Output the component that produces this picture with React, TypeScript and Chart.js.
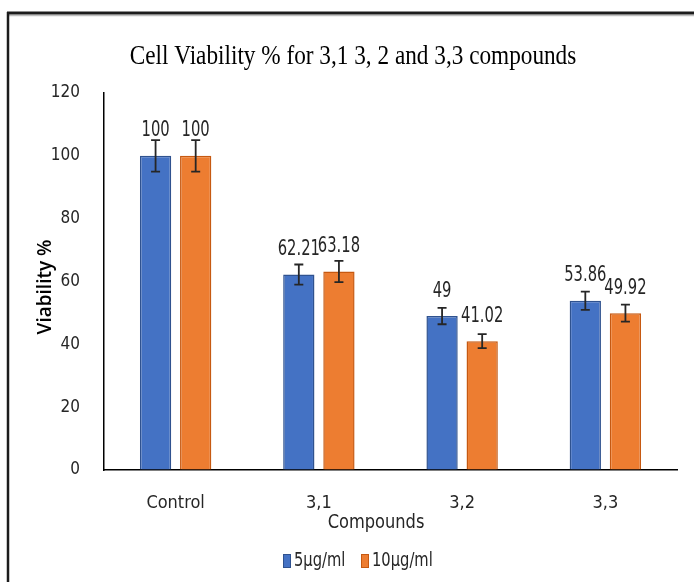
import React, { useEffect, useRef } from "react";
import { Chart, registerables } from "chart.js";

Chart.register(...registerables);

const chartTitle = "Cell Viability % for 3,1 3, 2 and 3,3 compounds";
const xAxisTitle = "Compounds";
const yAxisTitle = "Viability %";
const categories = ["Control", "3,1", "3,2", "3,3"];
const seriesNames = ["5µg/ml", "10µg/ml"];
const values5 = [100, 62.21, 49, 53.86];
const values10 = [100, 63.18, 41.02, 49.92];
const errors5 = [5, 3.2, 2.6, 2.9];
const errors10 = [5, 3.4, 2.2, 2.7];
const labels5 = ["100", "62.21", "49", "53.86"];
const labels10 = ["100", "63.18", "41.02", "49.92"];
const yTicks = [0, 20, 40, 60, 80, 100, 120];

const NARROW = '"Liberation Sans Narrow", "DejaVu Sans Condensed", "Arial Narrow", sans-serif';
const SERIF = '"Liberation Serif", "Times New Roman", serif';
const SANS = '"Open Sans", "Liberation Sans", sans-serif';

const errorsBySeries = [errors5, errors10];
const labelsBySeries = [labels5, labels10];

function drawSqueezed(
  ctx: CanvasRenderingContext2D,
  text: string,
  x: number,
  y: number,
  font: string,
  sx: number,
  align: CanvasTextAlign,
  color: string,
  rotate = 0
) {
  ctx.save();
  ctx.font = font;
  ctx.fillStyle = color;
  ctx.textAlign = align;
  ctx.textBaseline = "middle";
  ctx.translate(x, y);
  if (rotate) ctx.rotate(rotate);
  ctx.scale(sx, 1);
  ctx.fillText(text, 0, 0);
  ctx.restore();
}

const framePlugin = {
  id: "frame",
  beforeDraw(chart: any) {
    const { ctx, width, height } = chart;
    ctx.save();
    ctx.fillStyle = "#ffffff";
    ctx.fillRect(0, 0, width, height);
    ctx.strokeStyle = "#1c1c1c";
    ctx.lineWidth = 3;
    ctx.beginPath();
    ctx.moveTo(7, 13);
    ctx.lineTo(width, 13);
    ctx.stroke();
    ctx.lineWidth = 2.5;
    ctx.beginPath();
    ctx.moveTo(8, 12);
    ctx.lineTo(8, height);
    ctx.stroke();
    ctx.strokeStyle = "rgba(0,0,0,0.25)";
    ctx.lineWidth = 1.5;
    ctx.beginPath();
    ctx.moveTo(9, 15.5);
    ctx.lineTo(width, 15.5);
    ctx.stroke();
    ctx.restore();
    drawSqueezed(ctx, chartTitle, 353, 57, `28px ${SERIF}`, 0.83, "center", "#000");
    drawSqueezed(ctx, xAxisTitle, 376, 523, `19px ${NARROW}`, 0.95, "center", "#262626");
    drawSqueezed(ctx, yAxisTitle, 46, 287, `600 19px ${SANS}`, 1.0, "center", "#000", -Math.PI / 2);
  },
};

const legendPlugin = {
  id: "customLegend",
  afterDraw(chart: any) {
    const { ctx } = chart;
    const y = 561;
    const starts = [283, 361];
    chart.data.datasets.forEach((ds: any, di: number) => {
      const x = starts[di];
      ctx.save();
      ctx.fillStyle = ds.backgroundColor;
      ctx.strokeStyle = ds.borderColor;
      ctx.lineWidth = 1;
      ctx.fillRect(x, y - 7, 8, 14);
      ctx.strokeRect(x + 0.5, y - 6.5, 7, 13);
      ctx.restore();
      drawSqueezed(ctx, ds.label, x + 11, y, `19px ${NARROW}`, 0.86, "left", "#262626");
    });
  },
};

const errorBarPlugin = {
  id: "errorBars",
  afterDatasetsDraw(chart: any) {
    const { ctx } = chart;
    const yScale = chart.scales.y;
    chart.data.datasets.forEach((ds: any, di: number) => {
      const meta = chart.getDatasetMeta(di);
      meta.data.forEach((el: any, i: number) => {
        const v = ds.data[i];
        const e = errorsBySeries[di][i];
        const yTop = yScale.getPixelForValue(v + e);
        const yBot = yScale.getPixelForValue(v - e);
        const x = el.x;
        ctx.save();
        ctx.strokeStyle = "#262626";
        ctx.lineWidth = 1.8;
        ctx.beginPath();
        ctx.moveTo(x, yTop);
        ctx.lineTo(x, yBot);
        ctx.moveTo(x - 4.5, yTop);
        ctx.lineTo(x + 4.5, yTop);
        ctx.moveTo(x - 4.5, yBot);
        ctx.lineTo(x + 4.5, yBot);
        ctx.stroke();
        ctx.restore();
      });
    });
  },
};

const dataLabelPlugin = {
  id: "dataLabels",
  afterDatasetsDraw(chart: any) {
    const { ctx } = chart;
    chart.data.datasets.forEach((ds: any, di: number) => {
      const meta = chart.getDatasetMeta(di);
      meta.data.forEach((el: any, i: number) => {
        drawSqueezed(ctx, labelsBySeries[di][i], el.x, el.y - 25, `21px ${NARROW}`, 0.78, "center", "#262626");
      });
    });
  },
};

export default function App() {
  const canvasRef = useRef<HTMLCanvasElement | null>(null);

  useEffect(() => {
    if (!canvasRef.current) return;
    const chart = new Chart(canvasRef.current, {
      type: "bar",
      data: {
        labels: categories,
        datasets: [
          {
            label: seriesNames[0],
            data: values5,
            backgroundColor: "#4472C4",
            borderColor: "#2F528F",
            borderWidth: 1.5,
            categoryPercentage: 0.56,
            barPercentage: 0.78,
          },
          {
            label: seriesNames[1],
            data: values10,
            backgroundColor: "#ED7D31",
            borderColor: "#C65911",
            borderWidth: 1.5,
            categoryPercentage: 0.56,
            barPercentage: 0.78,
          },
        ],
      },
      options: {
        responsive: false,
        devicePixelRatio: 1,
        animation: false,
        layout: { padding: { left: 0, right: 17, top: 93, bottom: 0 } },
        plugins: {
          title: { display: false },
          legend: { display: false },
          tooltip: { enabled: false },
        },
        scales: {
          x: {
            grid: { display: true, drawOnChartArea: false, drawTicks: false },
            border: { display: true, color: "#000", width: 1.5 },
            ticks: { font: { family: NARROW, size: 18 }, color: "#262626", padding: 23 },
            afterFit: (s: any) => {
              s.height = 112;
            },
          },
          y: {
            min: 0,
            max: 120,
            afterBuildTicks: (s: any) => {
              s.ticks = yTicks.map((v) => ({ value: v }));
            },
            grid: { display: true, drawOnChartArea: false, drawTicks: false },
            border: { display: true, color: "#000", width: 1.5 },
            ticks: { font: { family: NARROW, size: 17 }, color: "#262626", padding: 24 },
            afterFit: (s: any) => {
              s.width = 104;
            },
          },
        },
      },
      plugins: [framePlugin, errorBarPlugin, dataLabelPlugin, legendPlugin],
    } as any);
    return () => chart.destroy();
  }, []);

  return (
    <div style={{ position: "absolute", left: 0, top: 0, width: 694, height: 582 }}>
      <canvas ref={canvasRef} width={694} height={582} style={{ display: "block" }} />
    </div>
  );
}
